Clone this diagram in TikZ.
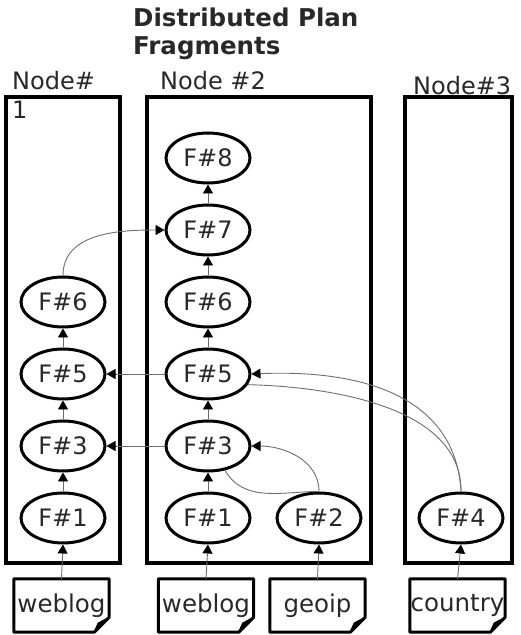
\documentclass[tikz,border=0pt]{standalone}
\usepackage{fontspec}
\setmainfont{DejaVu Sans}
\usetikzlibrary{shapes.geometric,arrows.meta,positioning}
\usepackage{xcolor}
\definecolor{Ink}{RGB}{40,40,40}
\definecolor{Wire}{RGB}{110,110,110}
\tikzset{
  frag/.style={ellipse,draw=black,line width=3pt,fill=white,text=Ink,
               font=\fontsize{24}{28}\selectfont,minimum width=84pt,minimum height=50pt,
               inner sep=0pt},
  fdoc/.style={rectangle,inner sep=0pt,minimum width=95pt,minimum height=53pt,
               text=Ink,font=\fontsize{24.5}{28}\selectfont},
  docline/.style={draw=black,line width=3pt,line join=round},
  hostbox/.style={draw=black,line width=3.5pt},
  hostlabel/.style={anchor=north west,inner sep=0pt,align=left,text=Ink,
                    font=\fontsize{24}{29}\selectfont},
  fedge/.style={-{Triangle[length=9pt,width=10pt,color=black]},Wire,line width=0.9pt},
  fline/.style={Wire,line width=0.9pt},
}
\newcommand\drawdoc[1]{%
  \draw[docline] (#1.south west) -- (#1.north west) -- (#1.north east)
    -- ([yshift=15pt]#1.south east) -- ([xshift=-15pt]#1.south east) -- cycle;
  \filldraw[docline,line width=1.2pt] ([xshift=-15pt]#1.south east) -- ([xshift=-11pt,yshift=9pt]#1.south east)
    -- ([yshift=15pt]#1.south east) -- cycle;}

\begin{document}
\begin{tikzpicture}[x=1pt,y=1pt,node distance=19pt]
    \useasboundingbox (0,0) rectangle (521,635);

    % title and host boxes
    \node[anchor=north west,inner sep=0pt,align=left,text=Ink,
          font=\bfseries\fontsize{24.5}{28}\selectfont] (title) at (133,627)
          {Distributed Plan\\Fragments};
    \draw[hostbox] (6,72) rectangle (120,538);
    \draw[hostbox] (147,72) rectangle (371,538);
    \draw[hostbox] (405,72) rectangle (512,538);
    \node[hostlabel] (lab1) at (12,564) {Node\#\\1};
    \node[hostlabel] (lab2) at (160,564) {Node \#2};
    \node[hostlabel] (lab3) at (413,559) {Node\#3};

    % node 1
    \node[frag] (a1) at (63,117) {F\#1};
    \node[frag,above=of a1] (a3) {F\#3};
    \node[frag,above=of a3] (a5) {F\#5};
    \node[frag,above=of a5] (a6) {F\#6};

    % node 2
    \node[frag] (b1) at (208,117) {F\#1};
    \node[frag] (b2) at (319,117) {F\#2};
    \node[frag,above=of b1] (b3) {F\#3};
    \node[frag,above=of b3] (b5) {F\#5};
    \node[frag,above=of b5] (b6) {F\#6};
    \node[frag,above=of b6] (b7) {F\#7};
    \node[frag,above=of b7] (b8) {F\#8};

    % node 3
    \node[frag] (c4) at (461,117) {F\#4};

    % input files
    \node[fdoc] (wa) at (61.5,29.5) {weblog};
    \node[fdoc] (wb) at (206,29.5) {weblog};
    \node[fdoc] (geo) at (317.5,29.5) {geoip};
    \node[fdoc] (ctry) at (457.5,29.5) {country};
    \foreach \d in {wa,wb,geo,ctry} {\drawdoc{\d}}

    % edges
    \draw[fedge] (wa.north) -- (a1.south);
    \draw[fedge] (wb.north) -- (b1.south);
    \draw[fedge] (geo.north) -- (b2.south);
    \draw[fedge] (ctry.north) -- (c4.south);
    \draw[fedge] (a1) -- (a3);
    \draw[fedge] (a3) -- (a5);
    \draw[fedge] (a5) -- (a6);
    \draw[fedge] (b1) -- (b3);
    \draw[fedge] (b3) -- (b5);
    \draw[fedge] (b5) -- (b6);
    \draw[fedge] (b6) -- (b7);
    \draw[fedge] (b7) -- (b8);
    \draw[fedge] (b5.west) -- (a5.east);
    \draw[fedge] (b3.west) -- (a3.east);
    \draw[fedge] (a6.north) to[out=90,in=180] (b7.west);
    \draw[fedge] (b2.north) to[out=90,in=0] (b3.east);
    \draw[fline] (b3.-55) to[out=-60,in=180] (b2.north);
    \draw[fedge] (c4.north) .. controls +(-5,90) and +(120,5) .. (b5.east);
    \draw[fline] (b5.-15) .. controls (340,248) and (462,225) .. (c4.north);
\end{tikzpicture}
\end{document}
